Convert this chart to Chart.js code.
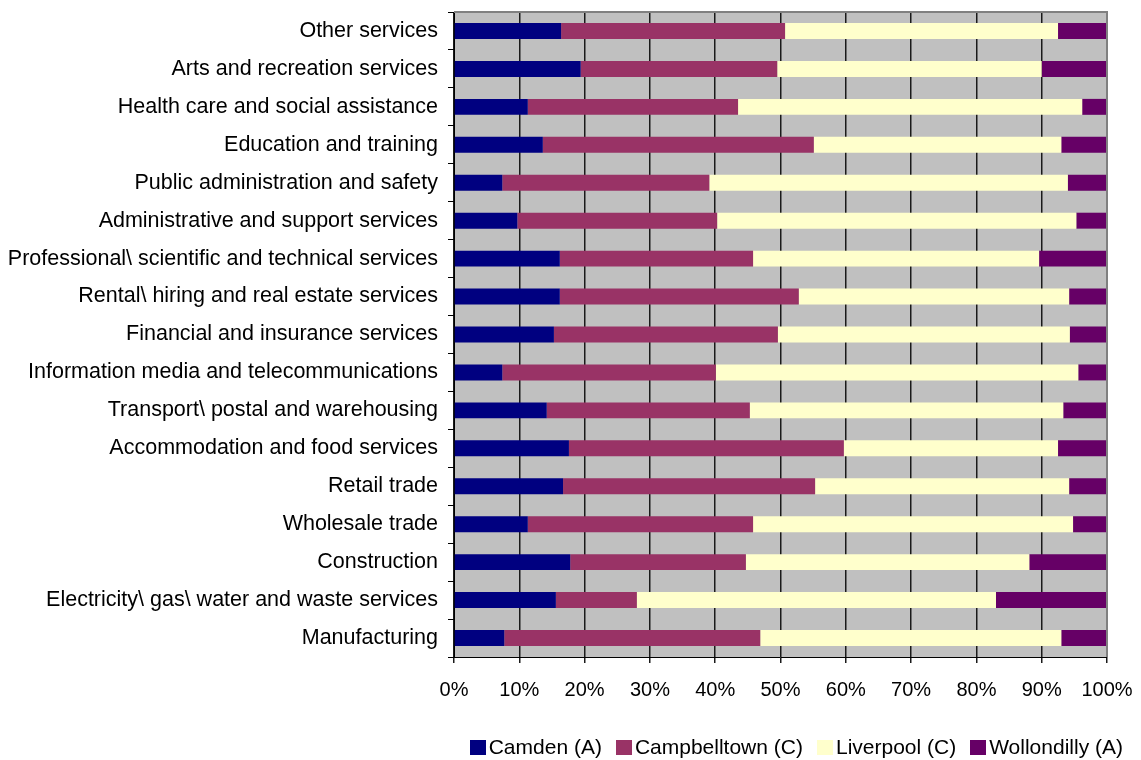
<!DOCTYPE html>
<html>
<head>
<meta charset="utf-8">
<title>Industry share by LGA</title>
<script src="https://cdn.jsdelivr.net/npm/chart.js@4.4.1/dist/chart.umd.min.js"></script>
<style>
  html, body { margin: 0; padding: 0; background: #fff; }
  #wrap { position: relative; width: 1141px; height: 760px; }
  canvas { display: block; }
  #legend {
    position: absolute;
    right: 18px;
    top: 735px;
    display: flex;
    align-items: center;
    font-family: 'Liberation Sans', Arial, sans-serif;
    font-size: 21px;
    color: #000;
    white-space: nowrap;
  }
  #legend .item { display: flex; align-items: center; margin-left: 14px; }
  #legend .swatch { width: 16px; height: 15px; margin-right: 3px; }
</style>
</head>
<body>
<div id="wrap">
  <canvas id="industryChart" width="1141" height="760"></canvas>
  <div id="legend"></div>
</div>
<script>
// categories, top to bottom as drawn
const industries = [
  "Other services",
  "Arts and recreation services",
  "Health care and social assistance",
  "Education and training",
  "Public administration and safety",
  "Administrative and support services",
  "Professional\\ scientific and technical services",
  "Rental\\ hiring and real estate services",
  "Financial and insurance services",
  "Information media and telecommunications",
  "Transport\\ postal and warehousing",
  "Accommodation and food services",
  "Retail trade",
  "Wholesale trade",
  "Construction",
  "Electricity\\ gas\\ water and waste services",
  "Manufacturing"
];

// share of each industry's workforce (%)
const camden       = [16.4, 19.4, 11.3, 13.6, 7.4, 9.7, 16.2, 16.2, 15.3, 7.4, 14.2, 17.6, 16.7, 11.3, 17.8, 15.6, 7.7];
const campbelltown = [34.3, 30.1, 32.2, 41.5, 31.7, 30.6, 29.6, 36.6, 34.3, 32.7, 31.1, 42.1, 38.6, 34.5, 26.9, 12.4, 39.2];
const liverpool    = [41.8, 40.5, 52.7, 37.9, 54.9, 55.0, 43.8, 41.4, 44.7, 55.5, 48.0, 32.8, 38.9, 49.0, 43.4, 55.0, 46.1];
const wollondilly  = [7.5, 10.0, 3.8, 7.0, 6.0, 4.7, 10.4, 5.8, 5.7, 4.4, 6.7, 7.5, 5.8, 5.2, 11.9, 17.0, 7.0];

const seriesNames = ["Camden (A)", "Campbelltown (C)", "Liverpool (C)", "Wollondilly (A)"];
const seriesColors = ["#000080", "#993366", "#FFFFCC", "#660066"];

const FONT = "'Liberation Sans', Arial, sans-serif";

// grey plot background plus the grey frame on top and right
const plotBackground = {
  id: "plotBackground",
  beforeDraw(chart) {
    const { ctx, chartArea: a } = chart;
    ctx.save();
    ctx.fillStyle = "#C0C0C0";
    ctx.fillRect(a.left, a.top, a.right - a.left, a.bottom - a.top);
    ctx.restore();
  },
  afterDraw(chart) {
    const { ctx, chartArea: a } = chart;
    ctx.save();
    ctx.strokeStyle = "#808080";
    ctx.lineWidth = 2;
    ctx.beginPath();
    ctx.moveTo(a.left, a.top);
    ctx.lineTo(a.right, a.top);
    ctx.lineTo(a.right, a.bottom);
    ctx.stroke();
    ctx.restore();
  }
};

const seriesData = [camden, campbelltown, liverpool, wollondilly];

const chart = new Chart(document.getElementById("industryChart"), {
  type: "bar",
  data: {
    labels: industries,
    datasets: seriesData.map((values, i) => ({
      label: seriesNames[i],
      data: values,
      backgroundColor: seriesColors[i],
      borderWidth: 0,
      barPercentage: 0.42,
      categoryPercentage: 1.0
    }))
  },
  options: {
    indexAxis: "y",
    responsive: false,
    animation: false,
    layout: { padding: { top: 12, right: 4, left: 4, bottom: 62 } },
    scales: {
      x: {
        stacked: true,
        min: 0,
        max: 100,
        ticks: {
          stepSize: 10,
          color: "#000",
          font: { family: FONT, size: 20 },
          padding: 15,
          callback: (v) => v + "%"
        },
        grid: { color: "#1a1a1a", lineWidth: 1.5, tickLength: 6 },
        border: { color: "#000", width: 1 },
        afterFit(scale) {
          scale.height = 41;
          scale.paddingRight = 34;
        }
      },
      y: {
        stacked: true,
        ticks: {
          color: "#000",
          font: { family: FONT, size: 21.5 },
          padding: 10
        },
        grid: { drawOnChartArea: false, color: "#000", tickLength: 6, offset: true },
        border: { color: "#000", width: 1 },
        afterFit(scale) {
          scale.width = 450;
          scale.paddingTop = 0;
          scale.paddingBottom = 0;
        }
      }
    },
    plugins: {
      legend: { display: false },
      tooltip: { enabled: false }
    }
  },
  plugins: [plotBackground]
});

// legend row built from the chart's own datasets
const legendEl = document.getElementById("legend");
chart.data.datasets.forEach((ds) => {
  const item = document.createElement("span");
  item.className = "item";
  const sw = document.createElement("span");
  sw.className = "swatch";
  sw.style.background = ds.backgroundColor;
  const txt = document.createElement("span");
  txt.textContent = ds.label;
  item.appendChild(sw);
  item.appendChild(txt);
  legendEl.appendChild(item);
});
</script>
</body>
</html>
